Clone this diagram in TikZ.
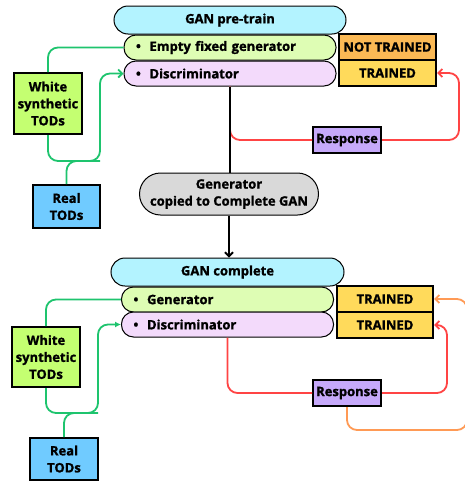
\documentclass[tikz,border=0pt]{standalone}
\usepackage{fontspec}
\setmainfont{Open Sans}[BoldFeatures={FakeBold=1.3}]
\usetikzlibrary{arrows.meta}

\definecolor{pillblue}{HTML}{B3F3FF}
\definecolor{itemgreen}{HTML}{DEFDB4}
\definecolor{itempink}{HTML}{F3DAFB}
\definecolor{notorange}{HTML}{FBB955}
\definecolor{trainyellow}{HTML}{FFDA5B}
\definecolor{synthlime}{HTML}{C4FF71}
\definecolor{realblue}{HTML}{70CBFF}
\definecolor{resplilac}{HTML}{C6A9FA}
\definecolor{copygray}{HTML}{D9D9D9}
\definecolor{linegreen}{HTML}{1EC46E}
\definecolor{linered}{HTML}{FF4444}
\definecolor{lineorange}{HTML}{FF9A55}

\tikzset{
	every node/.style={font=\fontsize{13}{17}\selectfont\bfseries},
	box/.style={draw, line width=2pt, align=center, inner sep=0pt},
	pill/.style={draw, line width=1pt, rounded corners=14pt, minimum height=28pt, fill=pillblue},
	item/.style={draw, line width=1pt, rounded corners=12pt, minimum height=25pt,
		text width=188pt, inner xsep=12pt, inner ysep=0pt, align=left},
	greenflow/.style={draw=linegreen, line width=1.8pt, rounded corners=10pt},
	redflow/.style={draw=linered, line width=1.8pt, rounded corners=10pt},
	orangeflow/.style={draw=lineorange, line width=1.8pt, rounded corners=10pt},
	copyline/.style={line width=1.8pt}
}

\begin{document}
\begin{tikzpicture}[x=1pt, y=-1pt]
	\useasboundingbox (0,0) rectangle (464,482);
	% pre-train GAN, top half
	\node[pill, minimum width=232pt] (pretrain) at (230,20) {GAN pre-train};
	\node[item, fill=itemgreen] (emptygen) at (230,47.5) {\textbullet\ \ Empty fixed generator};
	\node[item, fill=itempink] (disc) at (230,73.5) {\textbullet\ \ Discriminator};
	\node[box, fill=notorange, minimum width=97pt, minimum height=26pt] (nottrained) at (387.5,47) {NOT TRAINED};
	\node[box, fill=trainyellow, minimum width=97pt, minimum height=26pt] (trained) at (387.5,73) {TRAINED};
	\node[box, fill=synthlime, minimum width=68pt, minimum height=61pt] (white) at (48,103.5) {White\\synthetic\\TODs};
	\node[box, fill=realblue, minimum width=67pt, minimum height=43pt] (real) at (66.5,206.5) {Real\\TODs};
	\node[box, fill=resplilac, minimum width=68pt, minimum height=26pt] (resp) at (347,140) {Response};
	\coordinate (greenmerge) at (100,161);
	\coordinate (redturn) at (459,140);

	\draw[greenflow] (emptygen.west) -| (white.north);
	\draw[greenflow, -{Straight Barb[length=4pt, width=8pt]}] (white.south) |- (greenmerge) |- (disc.west);
	\draw[greenflow] (real.north) |- (greenmerge);
	\draw[redflow] (disc.south) |- (resp.west);
	\draw[redflow, -{Straight Barb[length=4pt, width=8pt]}] (resp.east) -- (redturn) |- (trained.east);

	% copy step
	\node[draw, line width=1pt, fill=copygray, rounded corners=21pt, minimum width=179pt, minimum height=42pt,
		align=center, inner sep=0pt] (copied) at (229,194) {Generator\\copied to Complete GAN};
	\draw[copyline] (disc.south) -- (disc.south |- copied.north);

	% complete GAN, bottom half
	\node[pill, minimum width=233pt] (complete) at (227.5,272) {GAN complete};
	\draw[copyline, -{Straight Barb[length=4pt, width=8pt]}] (copied.south) -- (copied.south |- complete.north);
	\node[item, fill=itemgreen] (gen) at (227.5,299.5) {\textbullet\ \ Generator};
	\node[item, fill=itempink] (disctwo) at (227.5,324.5) {\textbullet\ \ Discriminator};
	\node[box, fill=trainyellow, minimum width=96pt, minimum height=26pt] (trainedgen) at (385,299) {TRAINED};
	\node[box, fill=trainyellow, minimum width=96pt, minimum height=26pt] (traineddisc) at (385,325) {TRAINED};
	\node[box, fill=synthlime, minimum width=68pt, minimum height=60pt] (whitetwo) at (46,357) {White\\synthetic\\TODs};
	\node[box, fill=realblue, minimum width=68pt, minimum height=42pt] (realtwo) at (64,459) {Real\\TODs};
	\node[box, fill=resplilac, minimum width=68pt, minimum height=26pt] (resptwo) at (347,393) {Response};
	\coordinate (greenmergetwo) at (98,413);
	\coordinate (redturntwo) at (447,393);
	\coordinate (orangeturn) at (467,430);

	\draw[greenflow] (gen.west) -| (whitetwo.north);
	\draw[greenflow, -{Latex[length=6pt, width=6pt]}] (whitetwo.south) |- (greenmergetwo) |- (disctwo.west);
	\draw[greenflow] (realtwo.north) |- (greenmergetwo);
	\draw[redflow] (disctwo.south) |- (resptwo.west);
	\draw[redflow, -{Straight Barb[length=4pt, width=8pt]}] (resptwo.east) -- (redturntwo) |- (traineddisc.east);
	\draw[orangeflow, -{Straight Barb[length=4pt, width=8pt]}] (resptwo.south) |- (orangeturn) |- (trainedgen.east);
\end{tikzpicture}
\end{document}
